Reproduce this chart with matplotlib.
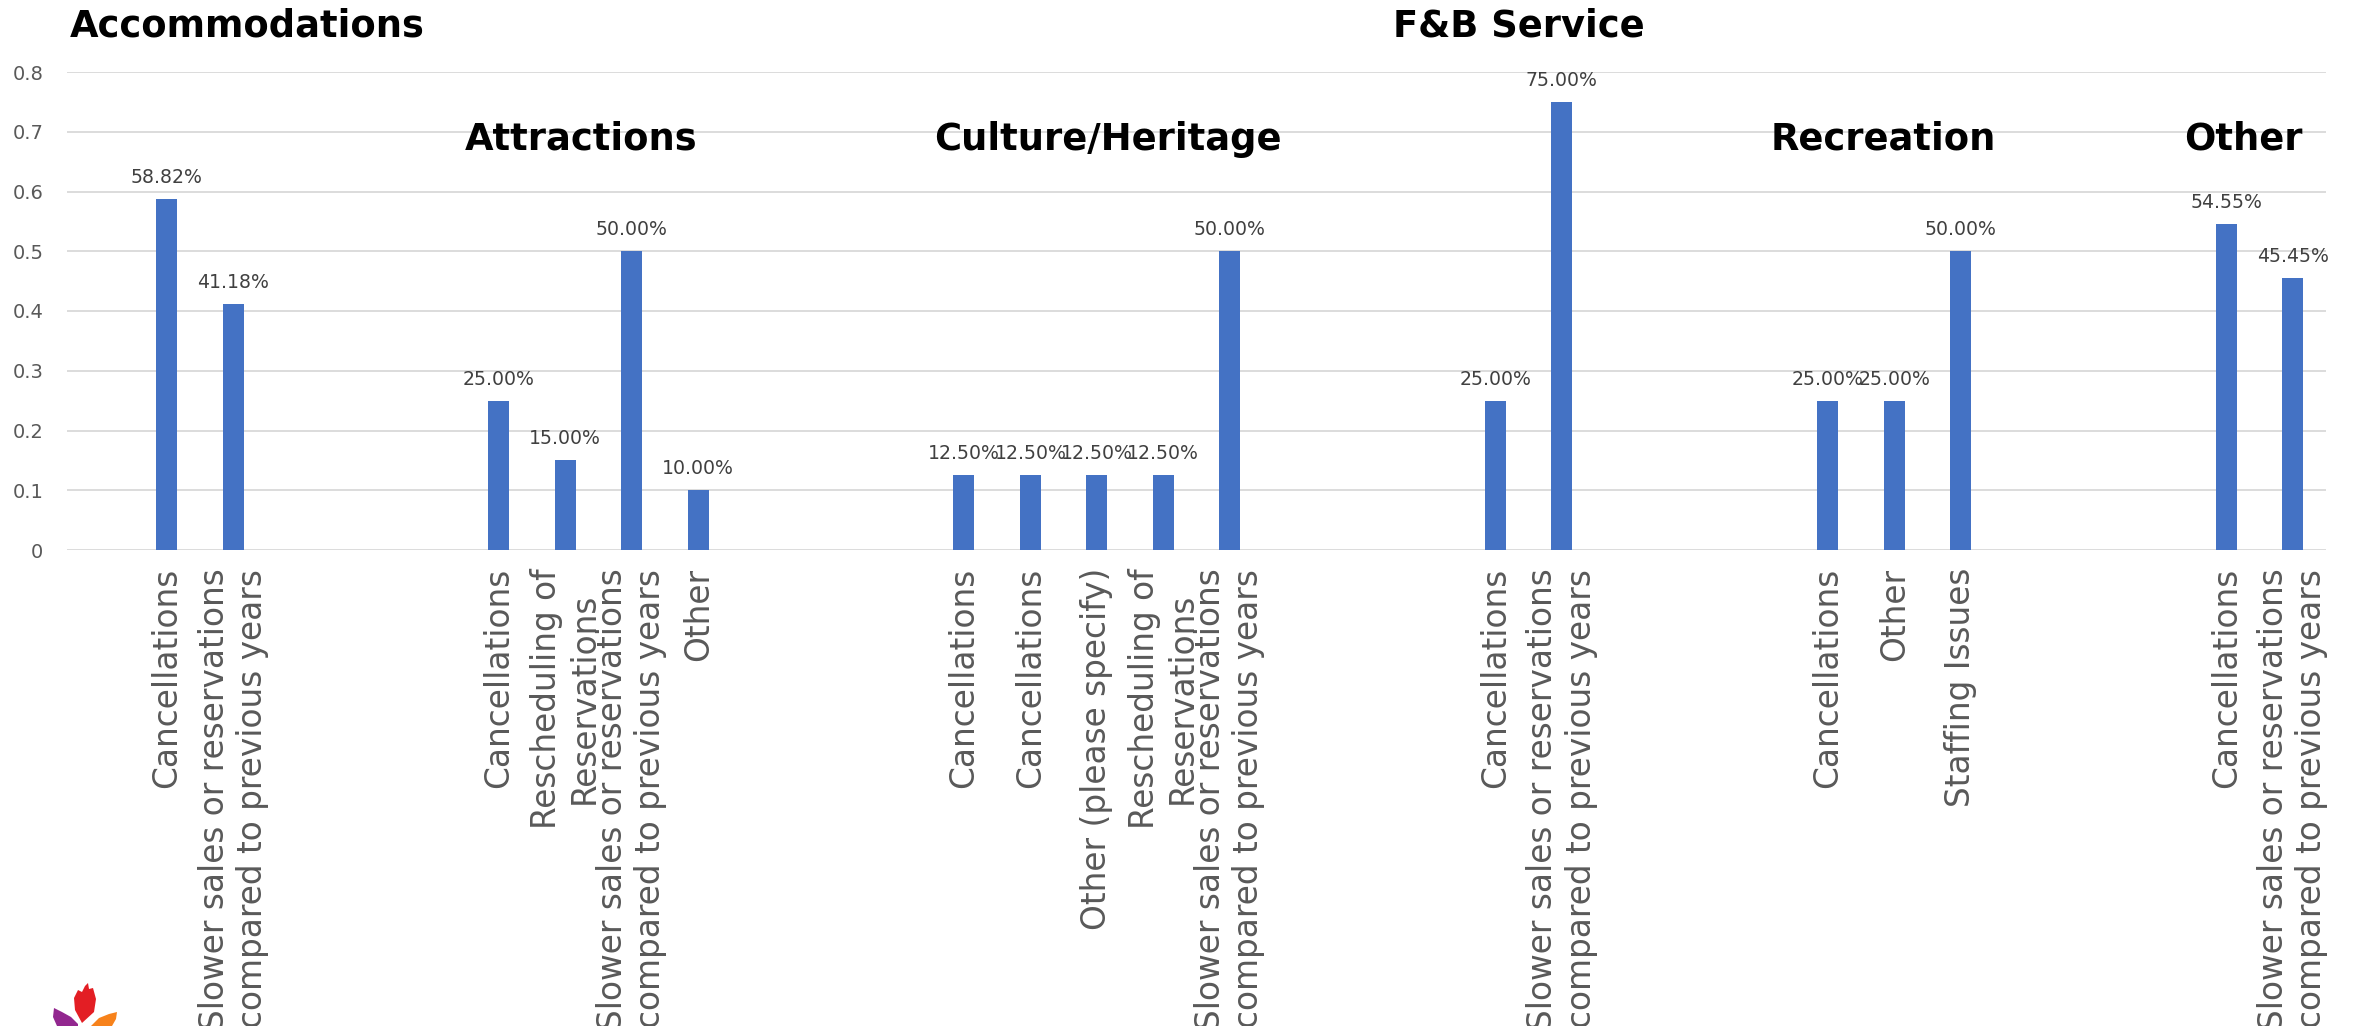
import matplotlib
matplotlib.use("Agg")
import matplotlib.pyplot as plt
from matplotlib.patches import Polygon

# ---------------- data ----------------
SLOW = "Slower sales or reservations\ncompared to previous years"
RESCHED = "Rescheduling of\nReservations"

categories = [
    "",
    "Cancellations", SLOW,
    "", "", "",
    "Cancellations", RESCHED, SLOW, "Other",
    "", "", "",
    "Cancellations", "Cancellations", "Other (please specify)", RESCHED, SLOW,
    "", "", "",
    "Cancellations", SLOW,
    "", "", "",
    "Cancellations", "Other", "Staffing Issues",
    "", "", "",
    "Cancellations", SLOW,
]
values = [
    None,
    0.5882, 0.4118,
    None, None, None,
    0.25, 0.15, 0.50, 0.10,
    None, None, None,
    0.125, 0.125, 0.125, 0.125, 0.50,
    None, None, None,
    0.25, 0.75,
    None, None, None,
    0.25, 0.25, 0.50,
    None, None, None,
    0.5455, 0.4545,
]
group_titles = ["Accommodations", "Attractions", "Culture/Heritage",
                "F&B Service", "Recreation", "Other"]
y_ticks = [0, 0.1, 0.2, 0.3, 0.4, 0.5, 0.6, 0.7, 0.8]
y_tick_labels = ["0", "0.1", "0.2", "0.3", "0.4", "0.5", "0.6", "0.7", "0.8"]

# ---------------- layout ----------------
W, H = 2354, 1026
fig = plt.figure(figsize=(W / 100, H / 100), dpi=100)
left_px, right_px, top_px, bot_px = 67, 2326, 72, 550
ax = fig.add_axes([left_px / W, 1 - bot_px / H,
                   (right_px - left_px) / W, (bot_px - top_px) / H])

bar_color = "#4472C4"
xs = [i for i, v in enumerate(values) if v is not None]
vs = [v for v in values if v is not None]
ax.bar(xs, vs, width=0.316, color=bar_color, zorder=3)

for x, v in zip(xs, vs):
    ax.annotate(f"{v * 100:.2f}%", (x, v), xytext=(0, 11.5),
                textcoords="offset points", ha="center", va="baseline",
                fontsize=13.6, color="#404040", zorder=4)

ax.set_xlim(-0.5, len(categories) - 0.5)
ax.set_ylim(0, 0.8)
ax.set_yticks(y_ticks)
ax.set_yticklabels(y_tick_labels, fontsize=14, color="#595959")
ax.set_xticks(range(len(categories)))
ax.set_xticklabels(categories, rotation=90, ha="center", va="top",
                   multialignment="center", linespacing=1.2,
                   fontsize=23.6, color="#595959")
ax.tick_params(axis="x", length=0, pad=13)
ax.tick_params(axis="y", length=0, pad=17)
for s in ax.spines.values():
    s.set_visible(False)
ax.yaxis.grid(True, color="#D9D9D9", linewidth=1.3, zorder=0)
ax.set_axisbelow(True)

# group titles (x centre in category units, baseline value)
title_pos = [(2.21, 0.8586), (7.24, 0.6695), (15.17, 0.6695),
             (21.35, 0.8586), (26.83, 0.6695), (32.25, 0.6695)]
for t, (tx, ty) in zip(group_titles, title_pos):
    ax.text(tx, ty, t, ha="center", va="baseline", fontsize=26.6,
            fontweight="bold", color="black", clip_on=False, zorder=5)

# small logo bottom-left (pixel coords from top-left)
def fig_poly(pts, color):
    p = Polygon([(x / W, 1 - y / H) for x, y in pts], closed=True,
                facecolor=color, edgecolor="none", transform=fig.transFigure)
    fig.add_artist(p)

fig_poly([(82, 1023), (75, 1010), (74, 998), (78, 990), (82, 992), (85, 986),
          (88, 983), (89, 989), (93, 988), (96, 999), (94, 1012)], "#E31E24")
fig_poly([(54, 1008), (62, 1012), (71, 1017), (78, 1024), (78, 1026),
          (57, 1026), (53, 1017)], "#92278F")
fig_poly([(117, 1012), (109, 1014), (99, 1018), (91, 1026), (112, 1026),
          (116, 1019)], "#F7821B")

fig.savefig("out.png", dpi=100)
